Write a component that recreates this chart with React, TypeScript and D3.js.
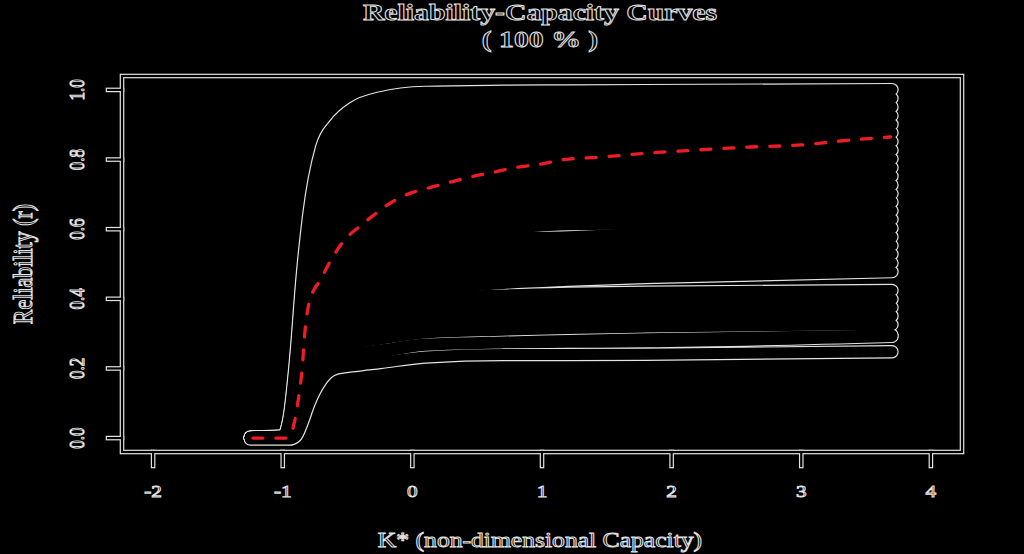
import React from 'react';
import * as d3 from 'd3';

// shared x grid for the simulated reliability curves
const gridX = [-1.25, -1.0, -0.95, -0.9, -0.85, -0.8, -0.7, -0.6, -0.45, -0.25, 0.1, 0.7, 1.2, 1.8, 3.7];

// upper family of curves (top envelope down to the lower edge of the upper mass)
const upperCurves = [
  [0.003, 0.006, 0.060, 0.230, 0.465, 0.640, 0.835, 0.900, 0.950, 0.977, 0.993, 0.996, 0.997, 0.998, 1.001],
  [0.002, 0.006, 0.056, 0.218, 0.446, 0.619, 0.810, 0.874, 0.923, 0.950, 0.966, 0.970, 0.971, 0.973, 0.976],
  [0.002, 0.005, 0.052, 0.206, 0.427, 0.597, 0.786, 0.848, 0.896, 0.922, 0.939, 0.943, 0.945, 0.947, 0.951],
  [0.002, 0.005, 0.048, 0.194, 0.409, 0.576, 0.762, 0.823, 0.869, 0.895, 0.912, 0.917, 0.919, 0.922, 0.926],
  [0.002, 0.004, 0.045, 0.183, 0.391, 0.555, 0.737, 0.797, 0.842, 0.867, 0.885, 0.891, 0.893, 0.896, 0.901],
  [0.002, 0.004, 0.041, 0.172, 0.373, 0.534, 0.713, 0.772, 0.815, 0.840, 0.858, 0.864, 0.868, 0.871, 0.877],
  [0.002, 0.004, 0.038, 0.161, 0.356, 0.513, 0.689, 0.746, 0.789, 0.813, 0.831, 0.838, 0.842, 0.845, 0.852],
  [0.002, 0.003, 0.035, 0.151, 0.339, 0.493, 0.665, 0.721, 0.762, 0.786, 0.804, 0.812, 0.816, 0.819, 0.827],
  [0.002, 0.003, 0.032, 0.141, 0.323, 0.473, 0.641, 0.696, 0.735, 0.759, 0.777, 0.786, 0.790, 0.794, 0.802],
  [0.002, 0.003, 0.029, 0.131, 0.307, 0.453, 0.617, 0.671, 0.709, 0.732, 0.750, 0.759, 0.764, 0.768, 0.777],
  [0.002, 0.002, 0.026, 0.122, 0.291, 0.433, 0.594, 0.646, 0.682, 0.704, 0.723, 0.733, 0.738, 0.743, 0.752],
  [0.001, 0.002, 0.024, 0.113, 0.275, 0.414, 0.570, 0.621, 0.656, 0.677, 0.696, 0.707, 0.712, 0.717, 0.727],
  [0.001, 0.002, 0.021, 0.105, 0.260, 0.395, 0.546, 0.596, 0.629, 0.650, 0.668, 0.680, 0.686, 0.692, 0.702],
  [0.001, 0.001, 0.019, 0.096, 0.245, 0.376, 0.523, 0.571, 0.603, 0.624, 0.641, 0.654, 0.660, 0.666, 0.678],
  [0.001, 0.001, 0.016, 0.088, 0.231, 0.357, 0.500, 0.546, 0.577, 0.597, 0.614, 0.628, 0.634, 0.640, 0.653],
  [0.001, 0.001, 0.014, 0.081, 0.217, 0.339, 0.477, 0.521, 0.551, 0.570, 0.587, 0.602, 0.613, 0.615, 0.628],
  [0.001, 0.001, 0.012, 0.074, 0.203, 0.321, 0.454, 0.496, 0.525, 0.543, 0.560, 0.575, 0.578, 0.589, 0.603],
  [0.000, 0.001, 0.010, 0.067, 0.190, 0.303, 0.431, 0.472, 0.499, 0.516, 0.533, 0.549, 0.557, 0.564, 0.578],
  [0.000, 0.000, 0.009, 0.060, 0.177, 0.285, 0.408, 0.447, 0.473, 0.490, 0.506, 0.523, 0.531, 0.538, 0.553],
  [0.000, 0.000, 0.007, 0.054, 0.164, 0.268, 0.385, 0.423, 0.447, 0.463, 0.479, 0.496, 0.505, 0.513, 0.528],
  [0.000, 0.000, 0.006, 0.048, 0.152, 0.251, 0.363, 0.398, 0.421, 0.437, 0.452, 0.470, 0.479, 0.487, 0.503],
  [0.000, 0.000, 0.004, 0.043, 0.140, 0.234, 0.340, 0.374, 0.395, 0.410, 0.425, 0.444, 0.453, 0.461, 0.478],
];

// middle band of curves (~0.29 - 0.43)
const middleCurves = [
  [0, 0, 0.002, 0.035, 0.124, 0.212, 0.315, 0.350, 0.370, 0.384, 0.400, 0.411, 0.416, 0.419, 0.424],
  [0, 0, 0.001, 0.029, 0.110, 0.192, 0.292, 0.328, 0.345, 0.359, 0.376, 0.386, 0.390, 0.394, 0.399],
  [0, 0, 0.000, 0.024, 0.095, 0.173, 0.269, 0.305, 0.321, 0.334, 0.351, 0.361, 0.365, 0.369, 0.375],
  [0, 0, 0.000, 0.018, 0.083, 0.155, 0.247, 0.282, 0.297, 0.309, 0.326, 0.336, 0.340, 0.344, 0.351],
  [0, 0, 0.000, 0.014, 0.071, 0.138, 0.225, 0.260, 0.273, 0.284, 0.302, 0.310, 0.315, 0.319, 0.326],
  [0, 0, 0.000, 0.009, 0.058, 0.118, 0.198, 0.232, 0.243, 0.253, 0.270, 0.276, 0.280, 0.285, 0.296],
  [0, 0, 0.000, 0.006, 0.050, 0.110, 0.190, 0.222, 0.234, 0.246, 0.2665, 0.2735, 0.275, 0.2765, 0.292],
];

// lowest curve (bottom envelope)
const lowestCurve = [-0.003, -0.003, -0.003, 0.005, 0.045, 0.097, 0.168, 0.199, 0.208, 0.217, 0.233, 0.240, 0.240, 0.2405, 0.248];

// mean reliability curve (red dashed)
const meanX = [-1.23, -1.1, -0.97, -0.94, -0.92, -0.88, -0.85, -0.83, -0.79, -0.76, -0.71, -0.63, -0.52, -0.4, -0.3, -0.2, -0.04, 0.14, 0.27, 0.45, 0.63, 0.81, 0.99, 1.17, 1.45, 1.84, 2.22, 2.61, 3.0, 3.38, 3.69];
const meanY = [0, 0, 0, 0.01, 0.03, 0.11, 0.2, 0.30, 0.40, 0.425, 0.454, 0.51, 0.57, 0.61, 0.64, 0.668, 0.70, 0.72, 0.733, 0.75, 0.764, 0.778, 0.787, 0.80, 0.807, 0.819, 0.828, 0.836, 0.842, 0.856, 0.865];

const xTicks = [-2, -1, 0, 1, 2, 3, 4];
const xTickLabels = ['-2', '-1', '0', '1', '2', '3', '4'];
const yTicks = [0, 0.2, 0.4, 0.6, 0.8, 1.0];
const yTickLabels = ['0.0', '0.2', '0.4', '0.6', '0.8', '1.0'];

const titleLines = ['Reliability-Capacity Curves', '( 100 % )'];
const xLabel = 'K* (non-dimensional Capacity)';
const yLabel = 'Reliability (r)';

const W = 1024;
const H = 554;
const FONT = "'Liberation Serif', 'Times New Roman', serif";
const SX = 1.25;
const OUT = '#e4e4e4';

function OText(props: { x: number; y: number; size: number; bold?: boolean; vertical?: boolean; children: string }) {
  const { x, y, size, bold, vertical, children } = props;
  const tr = vertical
    ? `translate(${x},${y}) scale(${SX},1) rotate(-90)`
    : `translate(${x},${y}) scale(${SX},1)`;
  return (
    <text
      transform={tr}
      textAnchor="middle"
      fontFamily={FONT}
      fontSize={size}
      fontWeight={bold ? 'bold' : 'normal'}
      fill="#000"
      stroke={OUT}
      strokeWidth={0.9}
    >
      {children}
    </text>
  );
}

export default function App() {
  const x = d3.scaleLinear().domain([-2.24, 4.24]).range([122, 962]);
  const y = d3.scaleLinear().domain([-0.04, 1.04]).range([452, 76]);

  const curveLine = d3
    .line<number>()
    .x((_, i) => x(gridX[i]))
    .y((d) => y(d))
    .curve(d3.curveMonotoneX);

  const meanLine = d3
    .line<number>()
    .x((_, i) => x(meanX[i]))
    .y((d) => y(d))
    .curve(d3.curveMonotoneX);

  const allCurves = [...upperCurves, ...middleCurves, lowestCurve];
  const lw = 11;

  const [x0, x1] = x.range();
  const [y0, y1] = y.range();
  const boxX = x0, boxY = y1, boxW = x1 - x0, boxH = y0 - y1;
  const tickLen = 14;

  const axisMarks = (stroke: string, width: number) => (
    <g stroke={stroke} strokeWidth={width} fill="none">
      <rect x={boxX} y={boxY} width={boxW} height={boxH} strokeLinejoin="miter" />
      {xTicks.map((t) => (
        <line key={'xt' + t} x1={x(t)} x2={x(t)} y1={y0} y2={y0 + tickLen} strokeLinecap="square" />
      ))}
      {yTicks.map((t) => (
        <line key={'yt' + t} x1={x0} x2={x0 - tickLen} y1={y(t)} y2={y(t)} strokeLinecap="square" />
      ))}
    </g>
  );

  return (
    <svg
      width={W}
      height={H}
      style={{ position: 'fixed', left: 0, top: 0, display: 'block', background: '#000' }}
    >
      <rect x={0} y={0} width={W} height={H} fill="#000" />

      {/* curves: outline layer then body layer */}
      <g fill="none" strokeLinecap="round" strokeLinejoin="round">
        {allCurves.map((c, i) => (
          <path key={'w' + i} d={curveLine(c) || ''} stroke={OUT} strokeWidth={lw + 2.4} />
        ))}
        {allCurves.map((c, i) => (
          <path key={'b' + i} d={curveLine(c) || ''} stroke="#000" strokeWidth={lw} />
        ))}
      </g>

      {/* mean curve */}
      <path
        d={meanLine(meanY) || ''}
        fill="none"
        stroke="#ee1c24"
        strokeWidth={3.3}
        strokeDasharray="10 13"
        strokeLinecap="round"
      />

      {/* axes */}
      {axisMarks(OUT, 4.6)}
      {axisMarks('#000', 2.2)}

      {/* tick labels */}
      {xTicks.map((t, i) => (
        <OText key={'xl' + t} x={x(t)} y={497} size={17}>
          {xTickLabels[i]}
        </OText>
      ))}
      {yTicks.map((t, i) => (
        <OText key={'yl' + t} x={84} y={y(t)} size={17} vertical>
          {yTickLabels[i]}
        </OText>
      ))}

      {/* axis titles */}
      <OText x={540} y={547} size={20.5}>{xLabel}</OText>
      <OText x={32} y={264} size={22} vertical>{yLabel}</OText>

      {/* title */}
      <OText x={540} y={20} size={23.8} bold>{titleLines[0]}</OText>
      <OText x={540} y={47} size={23.8} bold>{titleLines[1]}</OText>
    </svg>
  );
}
